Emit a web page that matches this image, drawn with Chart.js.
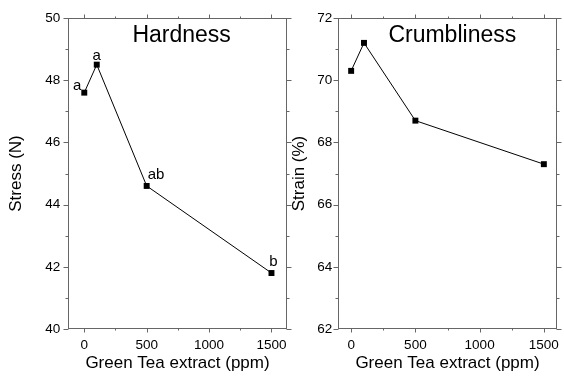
<!DOCTYPE html>
<html><head><meta charset="utf-8">
<script src="https://cdn.jsdelivr.net/npm/chart.js@4.4.0/dist/chart.umd.min.js"></script>
<style>
html,body{margin:0;padding:0;background:#fff;}
#wrap{position:relative;width:564px;height:381px;overflow:hidden;background:#fff;}
canvas{position:absolute;top:0;}
#c1{left:0;}
#c2{left:288px;}
</style></head><body>
<div id="wrap">
<canvas id="c1" width="294" height="381"></canvas>
<canvas id="c2" width="276" height="381"></canvas>
</div>
<script>
// ---- data ----
const concentrations = [0, 100, 500, 1500];
const hardness = [47.6, 48.5, 44.6, 41.8];
const crumbliness = [70.3, 71.2, 68.7, 67.3];
const hardnessLetters = ['a', 'a', 'ab', 'b'];
const xTickValues = [0, 250, 500, 750, 1000, 1250, 1500];
const xTickLabels = [0, 500, 1000, 1500];
const hardnessTickValues = [40, 41, 42, 43, 44, 45, 46, 47, 48, 49, 50];
const hardnessTickLabels = [40, 42, 44, 46, 48, 50];
const crumbTickValues = [62, 63, 64, 65, 66, 67, 68, 69, 70, 71, 72];
const crumbTickLabels = [62, 64, 66, 68, 70, 72];

const FONT = '"Liberation Sans", Arial, Helvetica, sans-serif';
const FRAME = '#666666';

const framePlugin = {
  id: 'frame',
  afterDraw(chart, args, o) {
    const {ctx, chartArea: a, scales: {x, y}} = chart;
    ctx.save();
    ctx.strokeStyle = FRAME;
    ctx.lineWidth = 1;
    const L = Math.round(a.left) + 0.5, R = Math.round(a.right) - 0.5;
    const T = Math.round(a.top) + 0.5, B = Math.round(a.bottom) - 0.5;
    ctx.strokeRect(L, T, R - L, B - T);
    ctx.beginPath();
    o.xTicks.forEach(v => {
      const px = Math.round(x.getPixelForValue(v)) + 0.5;
      const len = o.xMajor.includes(v) ? 4 : 2;
      ctx.moveTo(px, B); ctx.lineTo(px, B + len);
      ctx.moveTo(px, T); ctx.lineTo(px, T - len);
    });
    o.yTicks.forEach(v => {
      const py = Math.round(y.getPixelForValue(v)) + 0.5;
      const len = o.yMajor.includes(v) ? 5 : 3;
      ctx.moveTo(L, py); ctx.lineTo(L - len, py);
      ctx.moveTo(R, py); ctx.lineTo(R + len, py);
    });
    ctx.stroke();
    // panel title
    ctx.fillStyle = '#000';
    ctx.font = '23px ' + FONT;
    ctx.textAlign = 'center';
    ctx.textBaseline = 'alphabetic';
    ctx.fillText(o.title, a.left + a.width * o.titleFrac, a.top + 24);
    // significance letters
    if (o.letters) {
      ctx.font = '15px ' + FONT;
      const ds = chart.data.datasets[0].data;
      o.letters.forEach((t, i) => {
        const off = o.letterOffsets[i];
        const px = x.getPixelForValue(ds[i].x) + off[0];
        const py = y.getPixelForValue(ds[i].y) + off[1];
        ctx.textAlign = off[2];
        ctx.fillText(t, px, py);
      });
    }
    ctx.restore();
  }
};

function makeChart(id, cfg) {
  const canvas = document.getElementById(id);
  const pts = concentrations.map((c, i) => ({x: c, y: cfg.values[i]}));
  return new Chart(canvas, {
    type: 'scatter',
    data: {datasets: [{
      data: pts,
      showLine: true,
      borderColor: '#000',
      borderWidth: 1,
      backgroundColor: '#000',
      pointStyle: 'rect',
      pointRadius: 4.2,
      pointBorderWidth: 0,
      pointBackgroundColor: '#000',
      clip: false
    }]},
    options: {
      responsive: false,
      animation: false,
      events: [],
      layout: {padding: {left: 0, top: 18, right: cfg.padRight, bottom: 0}},
      plugins: {
        legend: {display: false},
        tooltip: {enabled: false},
        frame: {
          title: cfg.title, titleFrac: cfg.titleFrac,
          xTicks: xTickValues, xMajor: xTickLabels,
          yTicks: cfg.yTickValues, yMajor: cfg.yTickLabels,
          letters: cfg.letters, letterOffsets: cfg.letterOffsets
        }
      },
      scales: {
        x: {
          type: 'linear', min: cfg.xMin, max: cfg.xMax,
          afterBuildTicks: s => { s.ticks = xTickValues.map(v => ({value: v})); },
          afterFit: s => { s.height = 52; },
          grid: {display: true, drawOnChartArea: false, drawTicks: true, tickLength: 4, tickColor: 'rgba(0,0,0,0)'},
          border: {display: false},
          ticks: {
            autoSkip: false, maxRotation: 0, padding: 4, color: '#000',
            font: {family: FONT, size: 13.5},
            callback: v => xTickLabels.includes(v) ? String(v) : ''
          },
          title: {display: true, text: 'Green Tea extract (ppm)', color: '#000',
                  font: {family: FONT, size: 17}, padding: {top: 0, bottom: 7}}
        },
        y: {
          type: 'linear', min: cfg.yMin, max: cfg.yMax,
          afterBuildTicks: s => { s.ticks = cfg.yTickValues.map(v => ({value: v})); },
          afterFit: s => { s.width = cfg.yWidth; },
          grid: {display: true, drawOnChartArea: false, drawTicks: true, tickLength: 5, tickColor: 'rgba(0,0,0,0)'},
          border: {display: false},
          ticks: {
            autoSkip: false, padding: cfg.yTickPad, color: '#000',
            font: {family: FONT, size: 13.5},
            callback: v => cfg.yTickLabels.includes(v) ? String(v) : ''
          },
          title: {display: true, text: cfg.yTitle, color: '#000',
                  font: {family: FONT, size: 17}, padding: {top: cfg.yTitlePad, bottom: 0}}
        }
      }
    },
    plugins: [framePlugin]
  });
}

makeChart('c1', {
  values: hardness, yMin: 40, yMax: 50,
  yTickValues: hardnessTickValues, yTickLabels: hardnessTickLabels,
  xMin: -128, xMax: 1622,
  title: 'Hardness', titleFrac: 0.519, yTitle: 'Stress (N)',
  yWidth: 68.3, padRight: 294 - 286.7, yTitlePad: 6, yTickPad: 3,
  letters: hardnessLetters,
  letterOffsets: [[-7, -3, 'center'], [0, -5, 'center'], [1, -7, 'left'], [2, -7, 'center']]
});

makeChart('c2', {
  values: crumbliness, yMin: 62, yMax: 72,
  yTickValues: crumbTickValues, yTickLabels: crumbTickLabels,
  xMin: -100, xMax: 1600,
  title: 'Crumbliness', titleFrac: 0.522, yTitle: 'Strain (%)',
  yWidth: 338.3 - 288, padRight: 276 - (556.7 - 288), yTitlePad: 1.3, yTickPad: 1,
  letters: null, letterOffsets: null
});
</script>
</body></html>
